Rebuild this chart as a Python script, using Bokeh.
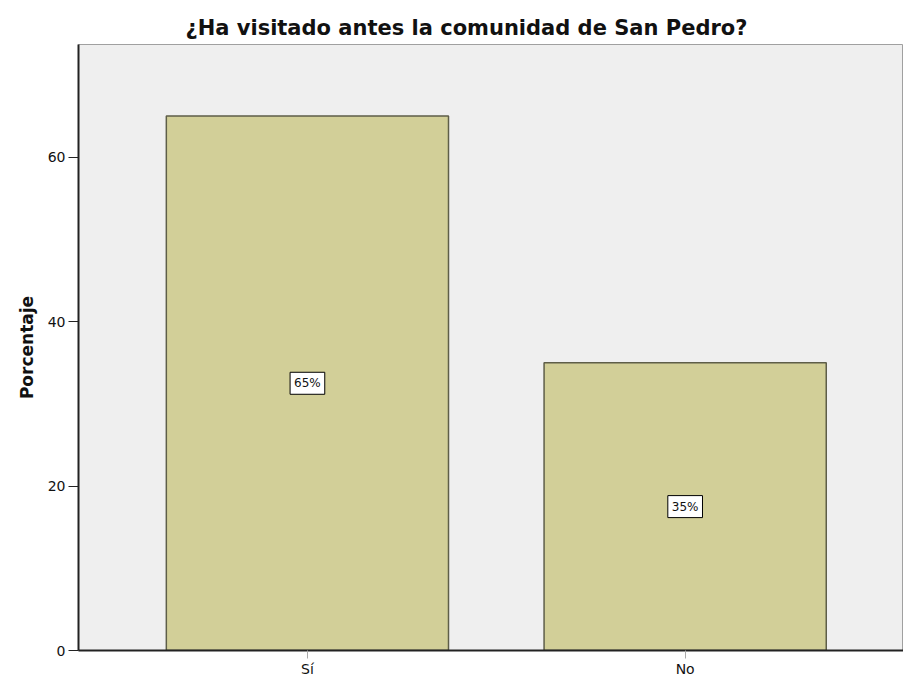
from bokeh.plotting import figure
from bokeh.models import ColumnDataSource, Range1d, FixedTicker
from bokeh.core.properties import value
from bokeh.embed import file_html
from bokeh.resources import INLINE

# ---- data ----
categories = ["Sí", "No"]
percentages = [65, 35]
label_texts = ["65%", "35%"]
y_ticks = [0, 20, 40, 60]
title_text = "¿Ha visitado antes la comunidad de San Pedro?"
y_title = "Porcentaje"

positions = [i + 0.5 for i in range(len(categories))]
source = ColumnDataSource(data=dict(
    x=positions,
    top=percentages,
    mid=[v / 2 for v in percentages],
    lbl=label_texts,
))

FONT = "DejaVu Sans"

p = figure(width=903, height=679, output_backend="svg", toolbar_location=None,
           x_range=Range1d(-0.106, 2.078), y_range=Range1d(0, 73.7),
           min_border_left=78, min_border_right=0, min_border_top=44,
           min_border_bottom=29, title=title_text)

p.background_fill_color = "#efefef"
p.border_fill_color = "white"
p.outline_line_color = "#a0a0a0"
p.outline_line_width = 1
p.xgrid.visible = False
p.ygrid.visible = False

p.title.align = "left"
p.title.offset = 107
p.title.text_font = FONT
p.title.text_font_size = "21px"
p.title.text_font_style = "bold"
p.title.text_color = "#111111"
p.title.standoff = 9

p.vbar(x="x", top="top", bottom=0, width=0.747, source=source,
       fill_color="#d2cf98", line_color="#5e5e48", line_width=1.5)

p.text(x="x", y="mid", text="lbl", source=source,
       text_align="center", text_baseline="middle",
       text_font=value(FONT), text_font_size="12px", text_color="#111111",
       background_fill_color="white", border_line_color="black",
       border_line_width=1, padding=4)

# x axis
p.xaxis.ticker = FixedTicker(ticks=positions)
p.xaxis.major_label_overrides = {pos: c for pos, c in zip(positions, categories)}
p.xaxis.axis_line_color = "#222222"
p.xaxis.axis_line_width = 2
p.xaxis.major_tick_line_color = "#aaaaaa"
p.xaxis.major_tick_out = 8
p.xaxis.major_tick_in = 0
p.xaxis.minor_tick_line_color = None
p.xaxis.major_label_standoff = 2
p.xaxis.major_label_text_font = FONT
p.xaxis.major_label_text_font_size = "14px"
p.xaxis.major_label_text_color = "#111111"

# y axis
p.yaxis.ticker = FixedTicker(ticks=y_ticks)
p.yaxis.axis_line_color = "#222222"
p.yaxis.axis_line_width = 2
p.yaxis.major_tick_line_color = "#222222"
p.yaxis.major_tick_out = 10
p.yaxis.major_tick_in = 0
p.yaxis.minor_tick_line_color = None
p.yaxis.major_label_standoff = 3
p.yaxis.major_label_text_font = FONT
p.yaxis.major_label_text_font_size = "14px"
p.yaxis.major_label_text_color = "#111111"
p.yaxis.axis_label = y_title
p.yaxis.axis_label_text_font = FONT
p.yaxis.axis_label_text_font_size = "17px"
p.yaxis.axis_label_text_font_style = "bold"
p.yaxis.axis_label_text_color = "#111111"
p.yaxis.axis_label_standoff = 8

open("out.html", "w").write(file_html(p, INLINE))
